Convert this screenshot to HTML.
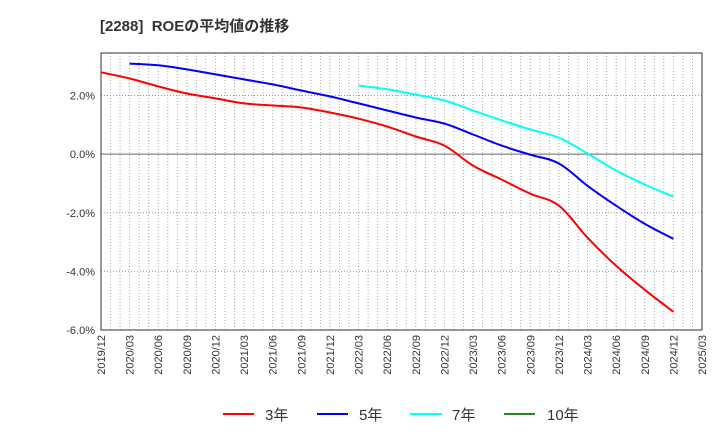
<!DOCTYPE html>
<html><head><meta charset="utf-8">
<style>
body{margin:0;background:#fff;font-family:"Liberation Sans","Noto Sans CJK JP",sans-serif;}
</style></head>
<body>
<svg id="chart" width="720" height="440" xmlns="http://www.w3.org/2000/svg" style="font-family:'Liberation Sans','Noto Sans CJK JP',sans-serif">
<text x="100" y="31" font-size="15" font-weight="bold" fill="#333">[2288]&#160;&#160;ROEの平均値の推移</text>
<g id="grid"></g>
<g id="axes"></g>
<g id="series"></g>
<g font-size="15" fill="#333">
<line x1="223" y1="414" x2="254" y2="414" stroke="#ff0000" stroke-width="2"/>
<text x="265" y="420">3年</text>
<line x1="317" y1="414" x2="348" y2="414" stroke="#0000ff" stroke-width="2"/>
<text x="359" y="420">5年</text>
<line x1="410" y1="414" x2="442" y2="414" stroke="#00ffff" stroke-width="2"/>
<text x="452" y="420">7年</text>
<line x1="504" y1="414" x2="535" y2="414" stroke="#228b22" stroke-width="2"/>
<text x="547" y="420">10年</text>
</g>
</svg>
<script>
const categories=["2019/12","2020/03","2020/06","2020/09","2020/12","2021/03","2021/06","2021/09","2021/12","2022/03","2022/06","2022/09","2022/12","2023/03","2023/06","2023/09","2023/12","2024/03","2024/06","2024/09","2024/12","2025/03"];
const roe3=[2.79,2.58,2.31,2.07,1.90,1.73,1.66,1.59,1.42,1.21,0.94,0.60,0.29,-0.39,-0.87,-1.35,-1.76,-2.85,-3.81,-4.63,-5.38,null];
const roe5=[null,3.09,3.03,2.89,2.72,2.55,2.38,2.17,1.97,1.73,1.49,1.25,1.04,0.67,0.29,-0.02,-0.32,-1.08,-1.76,-2.38,-2.89,null];
const roe7=[null,null,null,null,null,null,null,null,null,2.34,2.21,2.03,1.83,1.49,1.15,0.84,0.56,0.02,-0.56,-1.04,-1.45,null];
const yTicks=[2,0,-2,-4,-6];
const yTickLabels=["2.0%","0.0%","-2.0%","-4.0%","-6.0%"];
const NS="http://www.w3.org/2000/svg";
const L=101,R=702,T=53,B=330,yMax=3.45,yMin=-6;
function xs(i){return L+(R-L)*i/(categories.length-1);}
function xm(m){return L+(R-L)*m/((categories.length-1)*3);}
function ys(v){return T+(B-T)*(yMax-v)/(yMax-yMin);}
function mk(tag,attrs,parent){const e=document.createElementNS(NS,tag);for(const k in attrs)e.setAttribute(k,attrs[k]);parent.appendChild(e);return e;}
const grid=document.getElementById('grid'),axes=document.getElementById('axes'),ser=document.getElementById('series');
for(let m=1;m<(categories.length-1)*3;m++){
 const l=mk('line',{x1:xm(m),x2:xm(m),y1:T,y2:B,stroke:'#aaa','stroke-width':1,'stroke-dasharray':'1,2'},grid);
 
 
}
yTicks.forEach((v,i)=>{
 const zero=v===0;
 const l=mk('line',{x1:L,x2:R,y1:ys(v),y2:ys(v),stroke:zero?'#666':'#999','stroke-width':1},grid);
 if(!zero)l.setAttribute('stroke-dasharray','1,2');
 
 
 const t=mk('text',{x:L-6,y:ys(v)+4,'text-anchor':'end','font-size':11,fill:'#333'},axes);
 t.textContent=yTickLabels[i];
 
 
});
const frame=mk('rect',{x:L,y:T,width:R-L,height:B-T,fill:'none',stroke:'#333','stroke-width':1},axes);


categories.forEach((c,i)=>{
 const t=mk('text',{transform:`translate(${xs(i)+4},${B+5}) rotate(-90)`,'text-anchor':'end','font-size':11,fill:'#333'},axes);
 t.textContent=c;
 
 
});
function drawLine(arr,color,name){
 const pts=[];arr.forEach((v,i)=>{if(v!==null)pts.push([xs(i),ys(v)]);});
 let d='M'+pts[0][0].toFixed(1)+','+pts[0][1].toFixed(1);
 for(let i=0;i<pts.length-1;i++){
  const p0=pts[Math.max(0,i-1)],p1=pts[i],p2=pts[i+1],p3=pts[Math.min(pts.length-1,i+2)];
  const t=0.18;
  const c1x=p1[0]+(p2[0]-p0[0])*t,c1y=p1[1]+(p2[1]-p0[1])*t;
  const c2x=p2[0]-(p3[0]-p1[0])*t,c2y=p2[1]-(p3[1]-p1[1])*t;
  d+=` C${c1x.toFixed(1)},${c1y.toFixed(1)} ${c2x.toFixed(1)},${c2y.toFixed(1)} ${p2[0].toFixed(1)},${p2[1].toFixed(1)}`;
 }
 const p=mk('path',{d:d,fill:'none',stroke:color,'stroke-width':2,'stroke-linejoin':'round'},ser);
 
 
}
drawLine(roe7,'#00ffff','line-7y');
drawLine(roe5,'#0000ff','line-5y');
drawLine(roe3,'#ff0000','line-3y');
</script>
</body></html>
